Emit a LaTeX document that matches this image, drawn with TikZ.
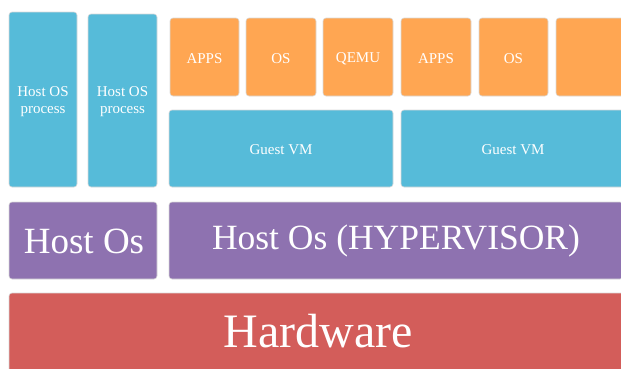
\documentclass[tikz,border=0pt]{standalone}
\usepackage{fontspec}
\setmainfont{Liberation Serif}
\definecolor{cblue}{RGB}{86,187,217}
\definecolor{corange}{RGB}{255,166,82}
\definecolor{cpurple}{RGB}{142,114,176}
\definecolor{cred}{RGB}{211,93,90}
\tikzset{
  blk/.style={rounded corners=3pt, draw=white!85!black, line width=0.6pt},
  bluebox/.style={blk, fill=cblue},
  orbox/.style={blk, fill=corange},
  purbox/.style={blk, fill=cpurple},
  redbox/.style={blk, fill=cred},
  smalltxt/.style={text=white, align=center, inner sep=0pt, font=\fontsize{15}{17}\selectfont},
  bigtxt/.style={text=white, inner sep=0pt, font=\fontsize{37}{40}\selectfont},
}
\begin{document}
\begin{tikzpicture}[x=1pt,y=-1pt]
\useasboundingbox (0,0) rectangle (621,368);
\clip (0,0) rectangle (621,368);
% host processes
\draw[bluebox] (9,12) rectangle (77,187);
\node[smalltxt] (p1) at (43,102) {Host OS\\process};
\draw[bluebox] (88,14) rectangle (157,187);
\node[smalltxt] (p2) at (122.5,102) {Host OS\\process};
% orange boxes
\foreach \xa/\xb/\t/\n in {170/239/APPS/a1, 246/316/OS/o1, 323/393/QEMU/q1, 401/471/APPS/a2, 479/548/OS/o2, 556/640/{}/x}{
  \draw[orbox] (\xa,18) rectangle (\xb,96);
  \node[smalltxt] (\n) at ({(\xa+\xb)/2},58.5) {\t};
}
% guest VMs
\draw[bluebox] (169,110) rectangle (393,187);
\node[smalltxt] (g1) at (281,150) {Guest VM};
\draw[bluebox] (401,110) rectangle (625,187);
\node[smalltxt] (g2) at (513,150) {Guest VM};
% host os layer
\draw[purbox] (9,202) rectangle (157,279);
\node[bigtxt] (h1) at (84,241) {Host Os};
\draw[purbox] (169,202) rectangle (623,279);
\node[bigtxt, font=\fontsize{35.5}{40}\selectfont] (h2) at (396,241) {Host Os (HYPERVISOR)};
% hardware
\draw[redbox] (9,293) rectangle (627,380);
\node[bigtxt, font=\fontsize{48}{52}\selectfont] (hw) at (318,331) {Hardware};
\end{tikzpicture}
\end{document}
